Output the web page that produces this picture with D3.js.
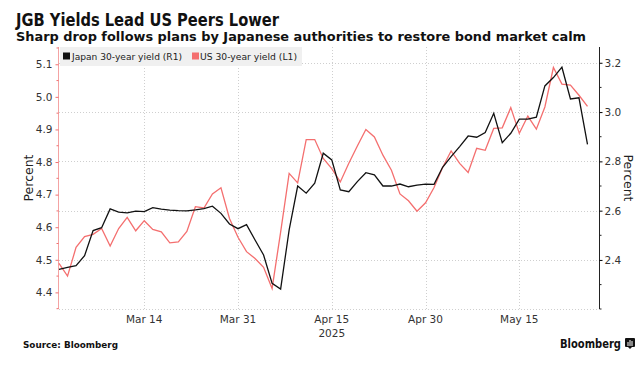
<!DOCTYPE html>
<html>
<head>
<meta charset="utf-8">
<script src="https://cdn.jsdelivr.net/npm/d3@7"></script>
<style>
  body { margin: 0; background: #fff; }
  text { font-family: "DejaVu Sans", sans-serif; fill: #222; }
</style>
</head>
<body>
<script>
// 30-year yields, one value per trading day (Feb 28 - May 27, 2025)
var japanYield = [
  2.362, 2.370, 2.377, 2.417, 2.519, 2.531, 2.607, 2.594, 2.591, 2.598,
  2.596, 2.612, 2.606, 2.602, 2.600, 2.599, 2.603, 2.608, 2.618, 2.589,
  2.546, 2.527, 2.543, 2.481, 2.420, 2.305, 2.282, 2.522, 2.700, 2.671,
  2.711, 2.833, 2.806, 2.684, 2.677, 2.718, 2.754, 2.745, 2.700, 2.700,
  2.708, 2.697, 2.704, 2.708, 2.707, 2.776, 2.819, 2.860, 2.903, 2.898,
  2.917, 2.995, 2.876, 2.914, 2.971, 2.971, 2.979, 3.106, 3.140, 3.182,
  3.053, 3.058, 2.869
];
var usYield = [
  4.489, 4.450, 4.538, 4.571, 4.578, 4.596, 4.542, 4.596, 4.630, 4.589,
  4.620, 4.593, 4.586, 4.552, 4.555, 4.587, 4.663, 4.659, 4.702, 4.721,
  4.627, 4.569, 4.525, 4.504, 4.477, 4.412, 4.585, 4.765, 4.736, 4.869,
  4.869, 4.811, 4.780, 4.739, 4.796, 4.849, 4.900, 4.877, 4.821, 4.775,
  4.702, 4.681, 4.649, 4.675, 4.722, 4.783, 4.834, 4.796, 4.768, 4.842,
  4.836, 4.903, 4.905, 4.967, 4.888, 4.941, 4.901, 4.969, 5.090, 5.039,
  5.036, 5.005, 4.971
];
var tickDates = ["2025-03-14", "2025-03-31", "2025-04-15", "2025-04-30", "2025-05-15"];
var tickLabels = ["Mar 14", "Mar 31", "Apr 15", "Apr 30", "May 15"];
var leftTicks = [4.4, 4.5, 4.6, 4.7, 4.8, 4.9, 5.0, 5.1];
var rightTicks = [2.4, 2.6, 2.8, 3.0, 3.2];

// trading days on the x axis (weekdays only)
var parse = d3.utcParse("%Y-%m-%d");
var fmt = d3.utcFormat("%Y-%m-%d");
var days = d3.utcDay.range(parse("2025-02-28"), parse("2025-05-28"))
  .filter(function(d) { return d.getUTCDay() > 0 && d.getUTCDay() < 6; })
  .map(fmt);

var W = 642, H = 368;
var plot = {left: 59, right: 599, top: 47, bottom: 309};

var svg = d3.select("body").append("svg")
  .attr("width", W).attr("height", H);

var x = d3.scalePoint().domain(days).range([plot.left, 587.5]);
var yL = d3.scaleLinear().domain([4.349, 5.153]).range([plot.bottom, plot.top]);
var yR = d3.scaleLinear().domain([2.201, 3.264]).range([plot.bottom, plot.top]);

// titles
svg.append("text").attr("x", 16).attr("y", 26)
  .style("font-size", "18px").style("font-weight", "bold").style("fill", "#111")
  .attr("textLength", 263).attr("lengthAdjust", "spacingAndGlyphs")
  .text("JGB Yields Lead US Peers Lower");
svg.append("text").attr("x", 16).attr("y", 41)
  .style("font-size", "12.5px").style("font-weight", "bold").style("fill", "#111")
  .attr("textLength", 570).attr("lengthAdjust", "spacingAndGlyphs")
  .text("Sharp drop follows plans by Japanese authorities to restore bond market calm");

// grid
var grid = svg.append("g").attr("class", "grid")
  .style("stroke", "#cfcfcf").style("stroke-dasharray", "1,2").style("stroke-width", 1);
grid.selectAll("line.h").data(rightTicks).enter().append("line")
  .attr("x1", plot.left).attr("x2", plot.right)
  .attr("y1", function(d) { return Math.round(yR(d)) + 0.5; })
  .attr("y2", function(d) { return Math.round(yR(d)) + 0.5; });
grid.selectAll("line.v").data(tickDates).enter().append("line")
  .attr("x1", function(d) { return Math.round(x(d)) + 0.5; })
  .attr("x2", function(d) { return Math.round(x(d)) + 0.5; })
  .attr("y1", plot.top).attr("y2", plot.bottom);
grid.append("line").attr("x1", plot.left).attr("x2", plot.right)
  .attr("y1", plot.bottom + 0.5).attr("y2", plot.bottom + 0.5);

// left axis (US, L1)
var leftAxis = svg.append("g")
  .attr("transform", "translate(" + (plot.left - 0.5) + ",0)")
  .call(d3.axisLeft(yL).tickValues(leftTicks).tickSize(3).tickPadding(3)
    .tickFormat(d3.format(".1f")));
leftAxis.select(".domain").attr("d", "M0," + plot.top + "V" + plot.bottom).style("stroke", "#f4a3a3");
leftAxis.selectAll(".tick line").style("stroke", "#f07070");
leftAxis.selectAll(".tick text").style("font-size", "10.5px").style("fill", "#333")
  .style("font-family", "DejaVu Sans");
leftAxis.selectAll("line.minor").data(d3.range(4.35, 5.16, 0.1)).enter().append("line")
  .attr("class", "minor").attr("x1", -2).attr("x2", 0)
  .attr("y1", function(d) { return yL(d); }).attr("y2", function(d) { return yL(d); })
  .style("stroke", "#f07070");

// right axis (Japan, R1)
var rightAxis = svg.append("g")
  .attr("transform", "translate(" + (plot.right + 0.5) + ",0)")
  .call(d3.axisRight(yR).tickValues(rightTicks).tickSize(3).tickPadding(2)
    .tickFormat(d3.format(".1f")));
rightAxis.select(".domain").attr("d", "M0," + plot.top + "V" + plot.bottom).style("stroke", "#222");
rightAxis.selectAll(".tick text").style("font-size", "10.5px").style("fill", "#333")
  .style("font-family", "DejaVu Sans");
rightAxis.selectAll("line.minor").data([2.3, 2.5, 2.7, 2.9, 3.1, 2.201]).enter().append("line")
  .attr("class", "minor").attr("x1", 0).attr("x2", 2)
  .attr("y1", function(d) { return yR(d); }).attr("y2", function(d) { return yR(d); })
  .style("stroke", "#222");

// bottom labels
svg.selectAll("text.xlab").data(tickDates).enter().append("text")
  .attr("class", "xlab")
  .attr("x", function(d) { return x(d); }).attr("y", 323)
  .attr("text-anchor", "middle").style("font-size", "10.5px").style("fill", "#333")
  .text(function(d, i) { return tickLabels[i]; });
svg.append("text").attr("x", x("2025-04-15")).attr("y", 337)
  .attr("text-anchor", "middle").style("font-size", "10.5px").style("fill", "#333")
  .text("2025");

// axis titles
svg.append("text").attr("transform", "translate(33,178) rotate(-90)")
  .attr("text-anchor", "middle").style("font-size", "12.5px").style("fill", "#222")
  .text("Percent");
svg.append("text").attr("transform", "translate(624,178) rotate(90)")
  .attr("text-anchor", "middle").style("font-size", "12.5px").style("fill", "#222")
  .text("Percent");

// lines
var lineL = d3.line().x(function(d, i) { return x(days[i]); }).y(function(d) { return yL(d); });
var lineR = d3.line().x(function(d, i) { return x(days[i]); }).y(function(d) { return yR(d); });
svg.append("path").datum(usYield).attr("d", lineL)
  .style("fill", "none").style("stroke", "#f46f6f").style("stroke-width", 1.3);
svg.append("path").datum(japanYield).attr("d", lineR)
  .style("fill", "none").style("stroke", "#111").style("stroke-width", 1.3);

// legend
var legend = svg.append("g");
legend.append("rect").attr("x", 60).attr("y", 47).attr("width", 242).attr("height", 19)
  .style("fill", "#f0f0f0");
legend.append("rect").attr("x", 63).attr("y", 52.5).attr("width", 7).attr("height", 7).style("fill", "#111");
legend.append("text").attr("x", 72).attr("y", 60).style("font-size", "9.5px").style("fill", "#222")
  .attr("textLength", 110).attr("lengthAdjust", "spacingAndGlyphs")
  .text("Japan 30-year yield (R1)");
legend.append("rect").attr("x", 192).attr("y", 52.5).attr("width", 7).attr("height", 7).style("fill", "#f46f6f");
legend.append("text").attr("x", 200).attr("y", 60).style("font-size", "9.5px").style("fill", "#222")
  .attr("textLength", 97).attr("lengthAdjust", "spacingAndGlyphs")
  .text("US 30-year yield  (L1)");

// footer
svg.append("text").attr("x", 23).attr("y", 348)
  .style("font-size", "9px").style("font-weight", "bold").style("fill", "#111")
  .attr("textLength", 95).attr("lengthAdjust", "spacingAndGlyphs")
  .text("Source: Bloomberg");
svg.append("text").attr("x", 560).attr("y", 348)
  .style("font-size", "12.5px").style("font-weight", "bold").style("fill", "#111")
  .attr("textLength", 61).attr("lengthAdjust", "spacingAndGlyphs")
  .text("Bloomberg");
var logo = svg.append("g").attr("transform", "translate(625,338)");
logo.append("rect").attr("width", 10).attr("height", 9).attr("rx", 1).style("fill", "#111");
logo.append("path").attr("d", "M3,9 L5,11 L7,9 Z").style("fill", "#111");
logo.selectAll("rect.bar").data([[2.5, 4], [4.5, 2], [6.5, 3]]).enter().append("rect")
  .attr("x", function(d) { return d[0]; }).attr("y", function(d) { return d[1]; })
  .attr("width", 1).attr("height", function(d) { return 8 - d[1]; }).style("fill", "#fff");
</script>
</body>
</html>
